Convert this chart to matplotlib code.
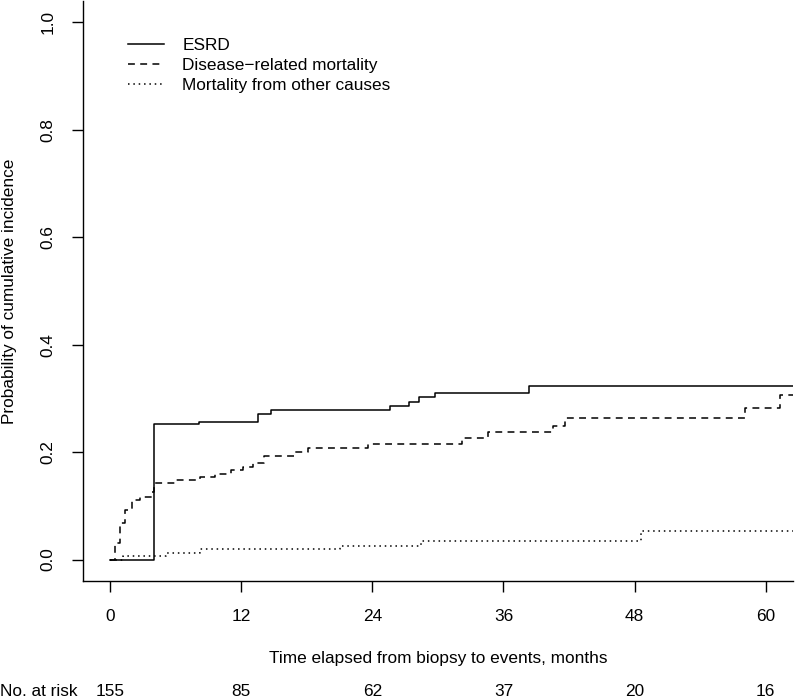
import numpy as np
import matplotlib
matplotlib.use("Agg")
import matplotlib.pyplot as plt
import matplotlib.transforms as mtransforms

plt.rcParams['font.family'] = ['Liberation Sans', 'DejaVu Sans']
plt.rcParams['font.size'] = 12.4

# cumulative incidence step curves (months, probability)
esrd_t = [0, 4.0, 8.1, 13.5, 14.7, 25.6, 27.4, 28.3, 29.7, 38.3, 63]
esrd_p = [0, 0.252, 0.2565, 0.271, 0.2777, 0.285, 0.294, 0.302, 0.311, 0.3235, 0.3235]

dis_t = [0, 0.46, 0.91, 1.37, 1.99, 2.74, 3.87, 4.0, 6.0, 8.2, 9.6, 11.1, 12.2,
         13.1, 14.1, 16.8, 18.1, 23.6, 32.2, 34.6, 40.5, 41.6, 58.1, 61.3, 63]
dis_p = [0, 0.030, 0.068, 0.092, 0.110, 0.116, 0.126, 0.1416, 0.1475, 0.153, 0.160,
         0.1664, 0.1726, 0.180, 0.1925, 0.2008, 0.208, 0.2155, 0.2255, 0.2367, 0.249,
         0.264, 0.283, 0.306, 0.306]

oth_t = [0, 1.2, 5.1, 8.2, 21.0, 28.5, 48.6, 63]
oth_p = [0, 0.006, 0.0123, 0.019, 0.026, 0.0347, 0.0533, 0.0533]

risk_times = [0, 12, 24, 36, 48, 60]
risk_n = [155, 85, 62, 37, 20, 16]

fs = 12.4
fig = plt.figure(figsize=(7.95, 6.98), dpi=100)
ax = fig.add_axes([83.3 / 795, 1 - 581 / 698, (792.7 - 83.3) / 795, 580 / 698])

lw = 1.1
ax.step(esrd_t, esrd_p, where='post', color='black', lw=lw, label='ESRD')
ax.step(dis_t, dis_p, where='post', color='black', lw=lw, linestyle=(0, (4.5, 3.5)),
        label='Disease\u2212related mortality')
ax.step(oth_t, oth_p, where='post', color='black', lw=lw, linestyle=(0, (1, 2.5)),
        label='Mortality from other causes')

ax.set_xlim(-2.44, 62.46)
ax.set_ylim(-0.04, 1.04)
ax.set_xticks(risk_times)
ax.set_yticks([0.0, 0.2, 0.4, 0.6, 0.8, 1.0])
ax.set_yticklabels(['0.0', '0.2', '0.4', '0.6', '0.8', '1.0'], rotation=90, va='center')
ax.tick_params(direction='out', length=8, width=1, pad=12, labelsize=fs)
for s in ['top', 'right']:
    ax.spines[s].set_visible(False)
for s in ['left', 'bottom']:
    ax.spines[s].set_linewidth(1)

fig.text(438 / 795, 1 - 659 / 698, 'Time elapsed from biopsy to events, months',
         ha='center', va='center', fontsize=fs)
fig.text(10 / 795, 1 - 291 / 698, 'Probability of cumulative incidence',
         ha='center', va='center', rotation=90, fontsize=fs)

# numbers at risk
trans = mtransforms.blended_transform_factory(ax.transData, fig.transFigure)
fig.text(0, 1 - 692 / 698, 'No. at risk', ha='left', va='center', fontsize=fs)
for t, n in zip(risk_times, risk_n):
    ax.text(t, 1 - 692 / 698, str(n), transform=trans, ha='center', va='center',
            fontsize=fs, clip_on=False)

ax.legend(loc='upper left', bbox_to_anchor=(128 / 795, 1 - 38 / 698),
          bbox_transform=fig.transFigure, frameon=False, borderpad=0,
          borderaxespad=0, handlelength=2.1, handletextpad=1.05, labelspacing=0.28,
          fontsize=fs)

fig.savefig('out.png', dpi=100)
